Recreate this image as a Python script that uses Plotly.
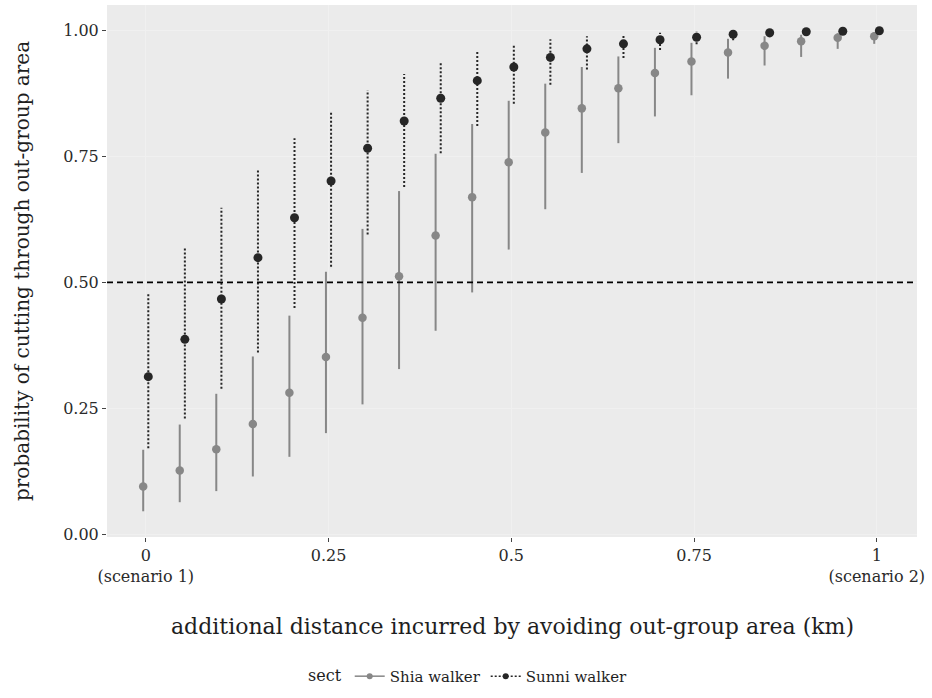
import plotly.graph_objects as go

# ---------------- data ----------------
distance = [0.00, 0.05, 0.10, 0.15, 0.20, 0.25, 0.30, 0.35, 0.40, 0.45, 0.50,
            0.55, 0.60, 0.65, 0.70, 0.75, 0.80, 0.85, 0.90, 0.95, 1.00]

shia_mean = [0.095, 0.127, 0.169, 0.219, 0.281, 0.352, 0.430, 0.512, 0.593, 0.669, 0.738,
             0.797, 0.845, 0.885, 0.915, 0.938, 0.956, 0.969, 0.978, 0.985, 0.988]
shia_lo = [0.046, 0.064, 0.086, 0.115, 0.154, 0.201, 0.258, 0.328, 0.404, 0.480, 0.565,
           0.645, 0.717, 0.776, 0.829, 0.871, 0.904, 0.930, 0.947, 0.963, 0.973]
shia_hi = [0.168, 0.218, 0.279, 0.353, 0.434, 0.521, 0.606, 0.681, 0.755, 0.814, 0.860,
           0.894, 0.927, 0.948, 0.965, 0.975, 0.983, 0.988, 0.991, 0.994, 0.996]

sunni_mean = [0.313, 0.387, 0.467, 0.549, 0.628, 0.701, 0.766, 0.820, 0.865, 0.900, 0.927,
              0.946, 0.963, 0.973, 0.981, 0.986, 0.992, 0.995, 0.997, 0.998, 0.999]
sunni_lo = [0.171, 0.230, 0.289, 0.361, 0.449, 0.531, 0.595, 0.689, 0.756, 0.810, 0.854,
            0.892, 0.922, 0.945, 0.961, 0.972, 0.980, 0.986, 0.990, 0.993, 0.995]
sunni_hi = [0.479, 0.568, 0.648, 0.722, 0.786, 0.838, 0.881, 0.913, 0.938, 0.958, 0.971,
            0.982, 0.988, 0.992, 0.995, 0.997, 0.998, 0.999, 0.999, 1.000, 1.000]

x_tickvals = [0, 0.25, 0.5, 0.75, 1]
x_ticktext = ["0<br>(scenario 1)", "0.25", "0.5", "0.75", "1<br>(scenario 2)"]
y_tickvals = [0.00, 0.25, 0.50, 0.75, 1.00]
y_ticktext = ["0.00", "0.25", "0.50", "0.75", "1.00"]

threshold = 0.5
x_title = "additional distance incurred by avoiding out-group area (km)"
y_title = "probability of cutting through out-group area"
legend_title = "sect"

# ---------------- styling ----------------
FONT = "DejaVu Serif"
DODGE = 0.0035
SHIA_COLOR = "#878787"
SUNNI_COLOR = "#262626"

series = [
    ("Shia walker", shia_mean, shia_lo, shia_hi, -DODGE, SHIA_COLOR, "solid", 8.5),
    ("Sunni walker", sunni_mean, sunni_lo, sunni_hi, DODGE, SUNNI_COLOR, "2px,2px", 9),
]

fig = go.Figure()
for name, mean, lo, hi, off, color, dash, msize in series:
    xs, ys = [], []
    for d, l, h in zip(distance, lo, hi):
        xs += [d + off, d + off, None]
        ys += [l, h, None]
    fig.add_trace(go.Scatter(x=xs, y=ys, mode="lines", showlegend=False,
                             line=dict(color=color, width=2, dash=dash),
                             hoverinfo="skip", legendgroup=name))
    fig.add_trace(go.Scatter(x=[d + off for d in distance], y=mean, mode="markers",
                             showlegend=False, legendgroup=name,
                             marker=dict(color=color, size=msize)))
    fig.add_trace(go.Scatter(x=[None], y=[None], mode="lines+markers", name=name,
                             legendgroup=name,
                             line=dict(color=color, width=1.5, dash=dash),
                             marker=dict(color=color, size=6)))

fig.add_hline(y=threshold, line=dict(color="black", width=1.6, dash="6px,4px"))

fig.update_layout(
    width=932, height=698,
    margin=dict(l=107, r=15, t=5, b=155),
    paper_bgcolor="white",
    plot_bgcolor="#ebebeb",
    font=dict(family=FONT, size=16, color="#1e1e1e"),
    showlegend=True,
    legend=dict(orientation="h", x=0.447, xanchor="center", y=(543 - 684) / 538,
                yanchor="middle",
                title=dict(text=legend_title, side="left", font=dict(size=16)),
                font=dict(size=15), itemwidth=30, bgcolor="rgba(0,0,0,0)"),
    annotations=[
        dict(text=x_title, xref="paper", yref="paper", x=0.5, y=(543 - 634) / 538,
             xanchor="center", yanchor="middle", showarrow=False, font=dict(size=22)),
        dict(text=y_title, xref="paper", yref="paper", x=(22 - 107) / 810, y=0.5,
             xanchor="center", yanchor="middle", showarrow=False, textangle=-90,
             font=dict(size=20)),
    ],
)
fig.update_xaxes(range=[-0.053, 1.055], tickvals=x_tickvals, ticktext=x_ticktext,
                 showgrid=True, gridcolor="#f0f0f0", gridwidth=1, zeroline=False,
                 ticks="outside", ticklen=4, tickcolor="#444444",
                 tickfont=dict(size=16, color="#2a2a2a"), showline=False)
fig.update_yaxes(range=[-0.005, 1.05], tickvals=y_tickvals, ticktext=y_ticktext,
                 showgrid=True, gridcolor="#f0f0f0", gridwidth=1, zeroline=False,
                 ticks="outside", ticklen=4, tickcolor="#444444",
                 tickfont=dict(size=16, color="#2a2a2a"), showline=False)

fig.write_html("out.html")
